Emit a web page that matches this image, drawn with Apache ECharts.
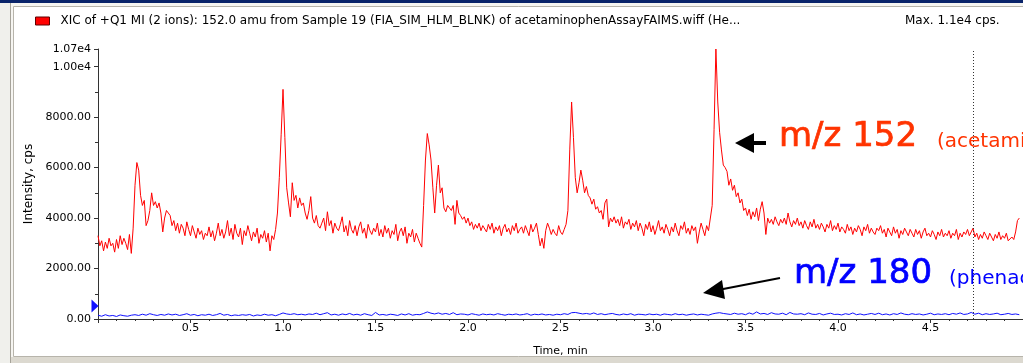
<!DOCTYPE html>
<html>
<head>
  <meta charset="utf-8">
</head>
<body style="margin: 0; background: #ffffff">
  <div id="container" style="width: 1023px; height: 363px"></div>

  <script type="text/javascript" src="https://cdn.jsdelivr.net/npm/echarts@6/dist/echarts.min.js"></script>
  <script type="text/javascript">
    // time sampling of the two XIC traces (min)
    var redStep = 0.01;
    var blueStep = 0.02;

    // m/z 152 trace, cps, one value every 0.01 min from 0.00
    var redIntensity = [
      3300, 2900, 3100, 2700, 3050, 2800, 3200, 2900, 3000, 2650,
      3150, 2800, 3300, 2950, 3200, 3000, 2750, 3350, 2600, 3600,
      5300, 6200, 5900, 4900, 4500, 4700, 3700, 3900, 4300, 5000,
      4500, 4650, 4400, 4600, 4200, 3450, 4000, 4300, 4350, 4100,
      3700, 3900, 3500, 3800, 3400, 3750, 3600, 3300, 3850, 3550,
      3300, 3700, 3450, 3200, 3600, 3350, 3500, 3150, 3400, 3300,
      3650, 3250, 3500, 3100, 3400, 3800, 3300, 3550, 3200, 3450,
      3900, 3300, 3600, 3150, 3750, 3400, 3250, 3600, 2950, 3500,
      3300, 3700, 3400, 3100, 3450, 3250, 3600, 3000, 3350, 3200,
      3500, 3050, 3400, 2700, 3300, 3150, 3550, 4200, 5600, 7300,
      9100, 7200, 5200, 4600, 4050, 5400, 4700, 4900, 4400, 4800,
      4500, 4600, 4200, 3950, 4300, 4850, 4000, 3800, 4100, 3700,
      3600, 3800, 4000, 3500, 4250, 3700, 3900, 3400, 3800, 3600,
      3500, 3750, 4050, 3450, 3700, 3300, 3900, 3550, 3400, 3700,
      3300, 3650, 3850, 3400, 3600, 3200, 3750, 3500, 3350, 3600,
      3450, 3800, 3300, 3550, 3250, 3700, 3400, 3600, 3200, 3500,
      3350, 3750, 3100, 3450, 3600, 3300, 3650, 3000, 3400, 3250,
      3550, 3050, 3400, 3200, 3000, 2850, 4500, 6300, 7350, 6900,
      6300, 5200, 4200, 5300, 6100, 5000, 5200, 4400, 4250, 4500,
      4400, 4300, 4500, 3750, 4700, 4200, 4100, 3950, 4050, 3800,
      4000, 3700, 3850, 3550, 3750, 3600, 3800, 3500, 3700, 3650,
      3450, 3750, 3550, 3800, 3400, 3650, 3500, 3700, 3300, 3600,
      3750, 3450, 3600, 3350, 3700, 3500, 3800, 3400, 3550, 3650,
      3400, 3700, 3500, 3300, 3750, 3450, 3600, 3800, 3350, 2900,
      3200, 2800, 3500, 3800, 3600, 3350, 3550, 3400, 3300, 3700,
      3450, 3350, 3550, 3750, 4300, 6700, 8600, 7200, 5600, 5000,
      5400, 5900, 5500, 5000, 5250, 4900, 4800, 4550, 4750, 4350,
      4450, 4200, 4300, 3950, 4600, 4750, 3650, 4000, 3850, 4050,
      3800, 3950, 3700, 4050, 3600, 3850, 3750, 3950, 3550, 3800,
      3650, 3900, 3500, 3800, 3600, 3300, 3750, 3550, 3850, 3450,
      3700, 3350, 3600, 3900, 3500, 3650, 3400, 3750, 3550, 3300,
      3650, 3450, 3800, 3500, 3300, 3700, 3550, 3850, 3400, 3600,
      3350, 3700, 3500, 3650, 3000, 3450, 3800, 3550, 3300, 3700,
      3500, 3450, 4500, 7500, 10700, 8600, 7400, 6700, 6100, 6000,
      5850, 5300, 5550, 5100, 5300, 4850, 5000, 4600, 4750, 4300,
      4400, 4100, 4350, 3950, 4250, 4050, 4400, 3900, 4350, 4650,
      4200, 3350, 4000, 3800, 3950, 3750, 4050, 3850, 3700, 3950,
      3800, 4000, 3750, 4200, 3850, 3650, 3900, 3750, 4000, 3700,
      3850, 3600, 3900, 3700, 3550, 3850, 3650, 3950, 3600, 3750,
      3550, 3800, 3650, 3450, 3750, 3600, 3900, 3500, 3700, 3550,
      3800, 3450, 3650, 3550, 3400, 3750, 3500, 3650, 3350, 3600,
      3450, 3700, 3550, 3300, 3650, 3500, 3750, 3400, 3600, 3450,
      3350, 3600, 3500, 3700, 3400, 3550, 3250, 3600, 3450, 3300,
      3650, 3400, 3550, 3200, 3500, 3350, 3600, 3450, 3300, 3550,
      3400, 3250, 3550, 3350, 3500, 3200, 3450, 3600, 3300, 3400,
      3250, 3500, 3350, 3150, 3450, 3300, 3550, 3250, 3400, 3300,
      3500, 3200, 3400, 3300, 3550, 3150, 3400, 3250, 3450, 3350,
      3550, 3300, 3450, 3600, 3250, 3400, 3150, 3350, 3200, 3450,
      3300, 3150, 3400, 3250, 3100, 3350, 3200, 3450, 3150, 3300,
      3200, 3400, 3100, 3050, 3250, 3150, 3450, 3900, 4000
    ];

    // m/z 180 trace, cps, one value every 0.02 min from 0.00
    var blueIntensity = [
      150, 110, 170, 120, 140, 100, 160, 130, 110, 150,
      170, 140, 190, 150, 210, 170, 140, 180, 150, 200,
      160, 190, 140, 170, 210, 150, 180, 130, 170, 150,
      190, 140, 170, 220, 150, 180, 130, 160, 140, 170,
      150, 180, 120, 160, 140, 190, 150, 170, 130, 180,
      240, 200, 180, 210, 170, 190, 160, 200, 180, 230,
      170, 210, 250, 160, 190, 150, 200, 170, 220, 160,
      190, 150, 210, 170, 140, 260, 160, 180, 150, 190,
      170, 140, 200, 160, 210, 150, 180, 170, 220, 280,
      230, 200, 240, 190, 220, 180, 250, 170, 200, 190,
      160, 210, 180, 150, 200, 170, 190, 160, 210, 180,
      150, 190, 170, 200, 160, 180, 210, 150, 190, 170,
      200, 160, 180, 150, 190, 170, 210, 180, 250, 260,
      230, 200, 220, 190, 240, 180, 210, 170, 200, 220,
      180, 160, 200, 170, 210, 150, 190, 180, 160, 200,
      170, 190, 150, 200, 180, 160, 210, 170, 190, 150,
      180, 200, 160, 190, 170, 150, 200, 230, 250, 220,
      200, 180, 230, 190, 210, 170, 240, 190, 280, 200,
      220, 180, 250, 200, 190, 230, 170, 260, 200, 190,
      210, 170, 240, 190, 180, 220, 160, 200, 230, 180,
      190, 160, 210, 180, 240, 170, 200, 160, 190, 220,
      180, 230, 170, 200, 160, 210, 180, 240, 190, 170,
      210, 180, 200, 160, 190, 230, 170, 200, 180, 210,
      170, 220, 190, 240, 180, 200, 260, 190, 230, 170,
      210, 180, 200, 230, 170, 190, 220, 180, 200, 170
    ];

    var xTicks = { min: 0, max: 5, interval: 0.5 };
    var yTicks = { min: 0, max: 10700, interval: 2000 };
    var cursorTime = 4.73;

    var headerText = 'XIC of +Q1 MI (2 ions): 152.0 amu from Sample 19 (FIA_SIM_HLM_BLNK) of acetaminophenAssayFAIMS.wiff (He...';
    var maxText = 'Max. 1.1e4 cps.';

    function toPairs(values, step) {
      return values.map(function (v, i) {
        return [Math.round(i * step * 1000) / 1000, v];
      });
    }

    var FONT = "'DejaVu Sans', sans-serif";
    var dom = document.getElementById('container');
    var myChart = echarts.init(dom, null, { renderer: 'canvas' });

    var option = {
      animation: false,
      backgroundColor: '#f6f5f1',
      title: {
        text: maxText,
        left: 905,
        top: 15,
        padding: 0,
        textStyle: { fontSize: 12, fontWeight: 'normal', color: '#000', fontFamily: FONT }
      },
      legend: {
        data: ['m/z 152'],
        left: 35,
        top: 15,
        padding: 0,
        icon: 'rect',
        itemWidth: 14,
        itemHeight: 8,
        itemGap: 10,
        formatter: function () { return headerText; },
        itemStyle: { borderColor: '#600000', borderWidth: 1 },
        textStyle: { fontSize: 12, color: '#000', fontFamily: FONT, padding: [0, 0, 0, 6] }
      },
      graphic: [
        { type: 'rect', z: -10, shape: { x: 0, y: 0, width: 1023, height: 3 }, style: { fill: '#0a246a' } },
        { type: 'rect', z: -10, shape: { x: 0, y: 3, width: 10, height: 360 }, style: { fill: '#f0f0ec' } },
        { type: 'line', z: -10, shape: { x1: 10.5, y1: 3, x2: 10.5, y2: 363 }, style: { stroke: '#a6a39a', lineWidth: 1 } },
        { type: 'rect', z: -10, shape: { x: 13.5, y: 6.5, width: 1012, height: 350 }, style: { fill: '#ffffff', stroke: '#b7b4ab', lineWidth: 1 } },
        { type: 'rect', z: -10, shape: { x: 11, y: 357, width: 1012, height: 6 }, style: { fill: '#dcd9d0' } },
        // annotations
        { type: 'text', z: 10, style: { text: 'm/z 152', x: 779, y: 137, font: "34px 'DejaVu Sans'", fill: '#ff3300', stroke: '#ff3300', lineWidth: 0.7, verticalAlign: 'middle' } },
        { type: 'text', z: 10, style: { text: '(acetaminophen)', x: 937, y: 142, font: "20px 'DejaVu Sans'", fill: '#ff3300', verticalAlign: 'middle' } },
        { type: 'text', z: 10, style: { text: 'm/z 180', x: 794, y: 274, font: "34px 'DejaVu Sans'", fill: '#0000ff', stroke: '#0000ff', lineWidth: 0.7, verticalAlign: 'middle' } },
        { type: 'text', z: 10, style: { text: '(phenacetin)', x: 949, y: 279, font: "20px 'DejaVu Sans'", fill: '#0000ff', verticalAlign: 'middle' } },
        { type: 'polygon', z: 10, shape: { points: [[735, 143], [754, 133], [754, 153]] }, style: { fill: '#000' } },
        { type: 'rect', z: 10, shape: { x: 752, y: 141, width: 14, height: 4 }, style: { fill: '#000' } },
        { type: 'line', z: 10, shape: { x1: 780, y1: 278, x2: 718, y2: 290 }, style: { stroke: '#000', lineWidth: 2 } },
        { type: 'polygon', z: 10, shape: { points: [[703, 293], [722, 280], [725, 299]] }, style: { fill: '#000' } }
      ],
      grid: {
        left: 98,
        right: 0,
        top: 49,
        bottom: 44,
        containLabel: false,
        outerBoundsMode: 'none'
      },
      xAxis: {
        type: 'value',
        min: xTicks.min,
        max: xTicks.max,
        interval: xTicks.interval,
        name: 'Time, min',
        nameLocation: 'middle',
        nameGap: 27,
        nameTextStyle: { fontSize: 11, color: '#000', fontFamily: FONT },
        axisLine: { show: true, lineStyle: { color: '#333', width: 1 } },
        axisTick: { show: true, length: 4, lineStyle: { color: '#333' } },
        minorTick: { show: true, splitNumber: 5, length: 2, lineStyle: { color: '#333' } },
        axisLabel: {
          fontSize: 11,
          color: '#000',
          fontFamily: FONT,
          margin: 4,
          showMinLabel: false,
          showMaxLabel: false,
          formatter: function (v) { return v.toFixed(1); }
        },
        splitLine: { show: false }
      },
      yAxis: {
        type: 'value',
        min: yTicks.min,
        max: yTicks.max,
        interval: yTicks.interval,
        name: 'Intensity, cps',
        nameLocation: 'middle',
        nameGap: 63,
        nameTextStyle: { fontSize: 12, color: '#000', fontFamily: FONT },
        axisLine: { show: true, lineStyle: { color: '#333', width: 1 } },
        axisTick: { show: true, length: 4, lineStyle: { color: '#333' } },
        minorTick: { show: true, splitNumber: 2, length: 3, lineStyle: { color: '#333' } },
        axisLabel: {
          fontSize: 11,
          color: '#000',
          fontFamily: FONT,
          margin: 7,
          formatter: function (v) {
            return v >= 10000 ? (v / 10000).toFixed(2) + 'e4' : v.toFixed(2);
          }
        },
        splitLine: { show: false }
      },
      series: [
        {
          name: 'm/z 180',
          type: 'line',
          data: toPairs(blueIntensity, blueStep),
          showSymbol: false,
          symbol: 'none',
          color: '#1010ff',
          lineStyle: { color: '#1010ff', width: 1 },
          markPoint: {
            silent: true,
            symbol: 'triangle',
            symbolSize: [13, 7],
            symbolRotate: -90,
            symbolOffset: [-3, 0],
            itemStyle: { color: '#1010ff' },
            label: { show: false },
            data: [{ coord: [0, 520] }]
          }
        },
        {
          name: 'm/z 152',
          type: 'line',
          data: toPairs(redIntensity, redStep),
          showSymbol: false,
          symbol: 'none',
          color: '#ff0000',
          lineStyle: { color: '#ff0000', width: 1 },
          markLine: {
            silent: true,
            symbol: 'none',
            label: { show: false },
            lineStyle: { color: '#333', type: [1, 2], width: 1 },
            data: [{ xAxis: cursorTime }]
          }
        }
      ]
    };

    myChart.setOption(option);
    window.addEventListener('resize', myChart.resize);
  </script>
</body>
</html>
